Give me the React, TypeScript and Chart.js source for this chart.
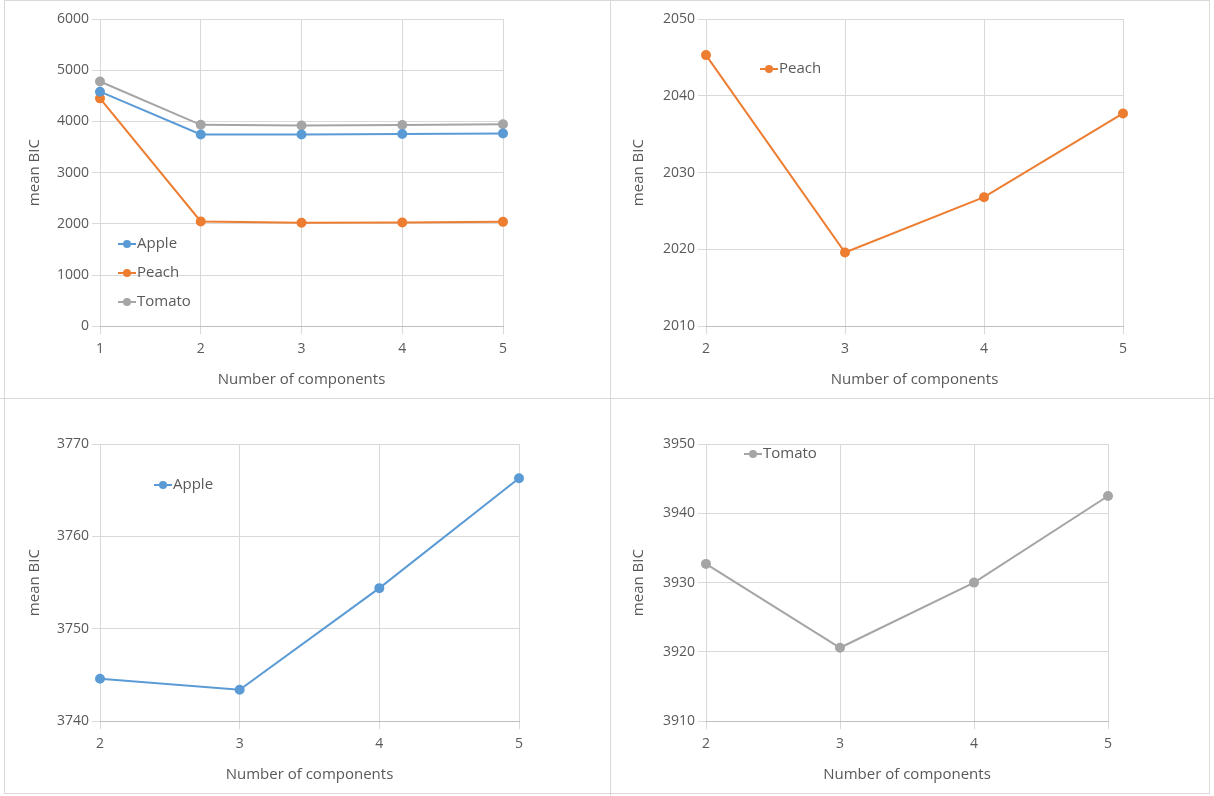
import { useEffect, useRef } from "react"
import { Chart, registerables } from "chart.js"

Chart.register(...registerables)

const allLabels = ["1", "2", "3", "4", "5"]
const subLabels = ["2", "3", "4", "5"]

const appleAll = [4580, 3745, 3743, 3754, 3766]
const peachAll = [4450, 2045, 2020, 2027, 2038]
const tomatoAll = [4780, 3933, 3921, 3930, 3943]

const peachSub = [2045.3, 2019.6, 2026.8, 2037.7]
const appleSub = [3744.6, 3743.4, 3754.4, 3766.3]
const tomatoSub = [3932.7, 3920.6, 3930.0, 3942.5]

const BLUE = "#5B9BD5"
const ORANGE = "#ED7D31"
const GRAY = "#A5A5A5"
const FONT = "'Open Sans', sans-serif"

interface Series {
  label: string
  data: number[]
  color: string
}

interface PanelProps {
  labels: string[]
  series: Series[]
  min: number
  max: number
  step: number
  yWidth: number
  padding: { left: number; right: number; top: number; bottom: number }
  legend: { x: number; y: number }
}

// legenda desenhada dentro da área do gráfico
const insideLegend = {
  id: "insideLegend",
  afterDraw(chart: any, _args: any, opts: any) {
    const ctx = chart.ctx
    const { left, top } = chart.chartArea
    ctx.save()
    ctx.font = `15px ${FONT}`
    ctx.textBaseline = "middle"
    chart.data.datasets.forEach((ds: any, i: number) => {
      const x = left + opts.x
      const y = top + opts.y + i * 29
      ctx.strokeStyle = ds.borderColor
      ctx.lineWidth = 2
      ctx.beginPath()
      ctx.moveTo(x, y)
      ctx.lineTo(x + 18, y)
      ctx.stroke()
      ctx.fillStyle = ds.borderColor
      ctx.beginPath()
      ctx.arc(x + 9, y, 4, 0, Math.PI * 2)
      ctx.fill()
      ctx.fillStyle = "#595959"
      ctx.fillText(ds.label, x + 19, y)
    })
    ctx.restore()
  },
}

function Panel({ labels, series, min, max, step, yWidth, padding, legend }: PanelProps) {
  const ref = useRef<HTMLCanvasElement>(null)
  useEffect(() => {
    if (!ref.current) return
    const chart = new Chart(ref.current, {
      type: "line",
      data: {
        labels,
        datasets: series.map((s) => ({
          label: s.label,
          data: s.data,
          borderColor: s.color,
          backgroundColor: s.color,
          borderWidth: 2,
          pointRadius: 4,
          tension: 0,
        })),
      },
      options: {
        animation: false,
        responsive: true,
        maintainAspectRatio: false,
        layout: { padding },
        plugins: {
          legend: { display: false },
          tooltip: { enabled: false },
          insideLegend: legend,
        } as any,
        scales: {
          x: {
            offset: false,
            grid: { color: "#D9D9D9" },
            border: { color: "#BFBFBF" },
            ticks: { color: "#595959", font: { family: FONT, size: 14 }, padding: 6 },
            title: {
              display: true,
              text: "Number of components",
              color: "#595959",
              font: { family: FONT, size: 15 },
              padding: { top: 8, bottom: 4 },
            },
          },
          y: {
            min,
            max,
            afterFit: (axis: any) => {
              axis.width = yWidth
            },
            ticks: {
              stepSize: step,
              color: "#595959",
              font: { family: FONT, size: 14 },
              callback: (v: any) => String(v),
            },
            grid: { color: "#D9D9D9" },
            border: { display: false },
            title: { display: true, text: "mean BIC", color: "#595959", font: { family: FONT, size: 15 } },
          },
        },
      },
      plugins: [insideLegend],
    })
    return () => chart.destroy()
  }, [])
  return <canvas ref={ref} />
}

const cell = (left: number, top: number, w: number, h: number): React.CSSProperties => ({
  position: "absolute",
  left,
  top,
  width: w,
  height: h,
})

export default function App() {
  return (
    <div style={{ position: "fixed", left: 0, top: 0, width: 1214, height: 796, background: "#fff" }}>
      <div style={cell(0, 0, 610, 398)}>
        <Panel
          labels={allLabels}
          series={[
            { label: "Apple", data: appleAll, color: BLUE },
            { label: "Peach", data: peachAll, color: ORANGE },
            { label: "Tomato", data: tomatoAll, color: GRAY },
          ]}
          min={0}
          max={6000}
          step={1000}
          yWidth={78}
          padding={{ left: 22, right: 107, top: 19, bottom: 5 }}
          legend={{ x: 18, y: 225 }}
        />
      </div>
      <div style={cell(610, 0, 604, 398)}>
        <Panel
          labels={subLabels}
          series={[{ label: "Peach", data: peachSub, color: ORANGE }]}
          min={2010}
          max={2050}
          step={10}
          yWidth={80}
          padding={{ left: 16, right: 91, top: 19, bottom: 5 }}
          legend={{ x: 54, y: 50 }}
        />
      </div>
      <div style={cell(0, 398, 610, 398)}>
        <Panel
          labels={subLabels}
          series={[{ label: "Apple", data: appleSub, color: BLUE }]}
          min={3740}
          max={3770}
          step={10}
          yWidth={78}
          padding={{ left: 22, right: 91, top: 46, bottom: 8 }}
          legend={{ x: 54, y: 41 }}
        />
      </div>
      <div style={cell(610, 398, 604, 398)}>
        <Panel
          labels={subLabels}
          series={[{ label: "Tomato", data: tomatoSub, color: GRAY }]}
          min={3910}
          max={3950}
          step={10}
          yWidth={80}
          padding={{ left: 16, right: 106, top: 46, bottom: 8 }}
          legend={{ x: 38, y: 10 }}
        />
      </div>
      <div style={{ position: "absolute", left: 610, top: 0, width: 1, height: 796, background: "#D9D9D9" }} />
      <div style={{ position: "absolute", left: 0, top: 398, width: 1214, height: 1, background: "#D9D9D9" }} />
      <div style={{ position: "absolute", left: 4, top: 0, width: 1206, height: 794, border: "1px solid #D9D9D9", boxSizing: "border-box" }} />
    </div>
  )
}
